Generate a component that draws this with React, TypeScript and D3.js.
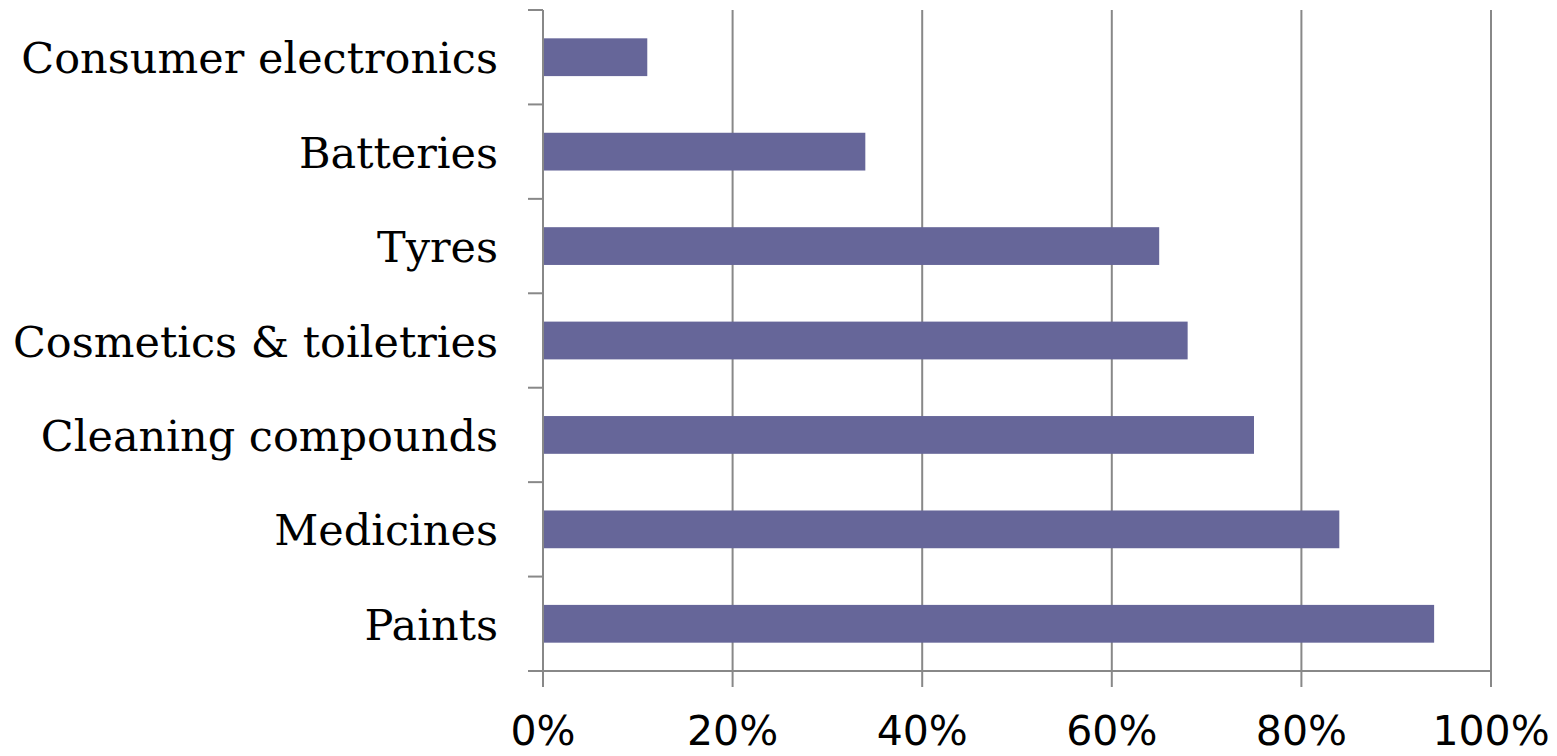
import React from "react";
import * as d3 from "d3";

const categories = [
  "Consumer electronics",
  "Batteries",
  "Tyres",
  "Cosmetics & toiletries",
  "Cleaning compounds",
  "Medicines",
  "Paints",
];
const values = [11, 34, 65, 68, 75, 84, 94];
const xTicks = [0, 20, 40, 60, 80, 100];

const W = 1557;
const H = 756;
const left = 543;
const right = 1491;
const top = 10;
const bottom = 671;
const labelFont = "'DejaVu Serif', serif";
const tickFont = "'DejaVu Sans', sans-serif";

export default function App() {
  const x = d3.scaleLinear().domain([0, 100]).range([left, right]);
  const y = d3.scaleBand().domain(categories).range([top, bottom]).paddingInner(0.6).paddingOuter(0.3);
  const bandEdges = d3.range(categories.length + 1).map((i) => top + (i * (bottom - top)) / categories.length);
  return (
    <svg width={W} height={H} style={{ position: "absolute", left: 0, top: 0, background: "#fff" }}>
      {xTicks.map((t) => (
        <line key={"g" + t} x1={x(t)} x2={x(t)} y1={top} y2={bottom + 16} stroke="#888" strokeWidth={2} />
      ))}
      {bandEdges.map((b, i) => (
        <line key={"yt" + i} x1={left - 15} x2={left} y1={b} y2={b} stroke="#888" strokeWidth={2} />
      ))}
      <line x1={left} x2={left} y1={top} y2={bottom} stroke="#888" strokeWidth={2} />
      <line x1={left - 15} x2={right} y1={bottom} y2={bottom} stroke="#888" strokeWidth={2} />
      {categories.map((c, i) => (
        <rect key={c} x={x(0) + 1} y={y(c)} width={x(values[i]) - x(0) - 1} height={y.bandwidth()} fill="#666699" />
      ))}
      {categories.map((c) => (
        <text key={"l" + c} x={498} y={(y(c) as number) + y.bandwidth() / 2 + 16} textAnchor="end" fontFamily={labelFont} fontSize={43} fill="#000">
          {c}
        </text>
      ))}
      {xTicks.map((t) => (
        <text key={"t" + t} x={x(t)} y={745} textAnchor="middle" fontFamily={tickFont} fontSize={41} fill="#000">
          {t + "%"}
        </text>
      ))}
    </svg>
  );
}
